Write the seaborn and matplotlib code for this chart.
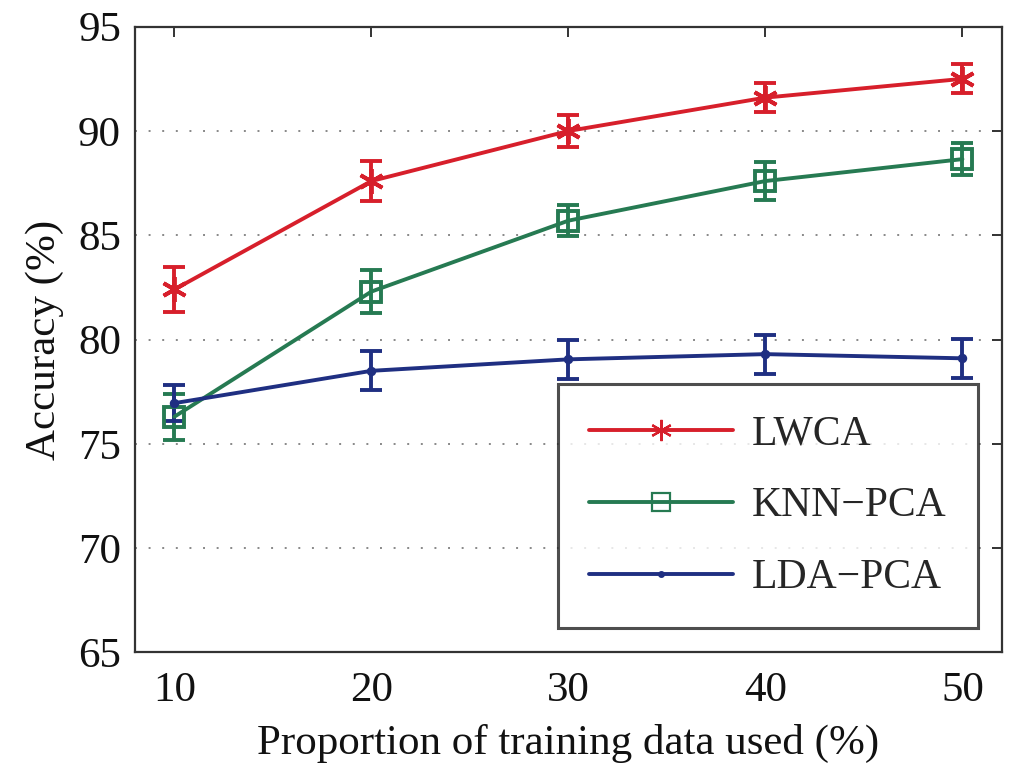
import numpy as np
import pandas as pd
import seaborn as sns
import matplotlib.pyplot as plt

# data
proportion = [10, 20, 30, 40, 50]
lwca = [82.4, 87.6, 90.0, 91.6, 92.5]
lwca_err = [1.1, 0.95, 0.75, 0.7, 0.7]
knn_pca = [76.3, 82.3, 85.7, 87.6, 88.65]
knn_pca_err = [1.1, 1.05, 0.75, 0.9, 0.75]
lda_pca = [76.95, 78.5, 79.05, 79.3, 79.1]
lda_pca_err = [0.85, 0.93, 0.93, 0.93, 0.93]
methods = ['LWCA', 'KNN\u2212PCA', 'LDA\u2212PCA']

colors = {'LWCA': '#d71f2b', 'KNN\u2212PCA': '#267a52', 'LDA\u2212PCA': '#1f2f82'}
markers = {'LWCA': (6, 2, 0), 'KNN\u2212PCA': 's', 'LDA\u2212PCA': 'o'}
msizes = {'LWCA': 18, 'KNN\u2212PCA': 15, 'LDA\u2212PCA': 4}

df = pd.DataFrame({
    'x': proportion * 3,
    'acc': lwca + knn_pca + lda_pca,
    'err': lwca_err + knn_pca_err + lda_pca_err,
    'method': [m for m in methods for _ in proportion],
})

sns.set_style('white')
plt.rcParams['font.family'] = ['Liberation Serif', 'DejaVu Serif']

fig = plt.figure(figsize=(10.15, 7.63), dpi=100)
ax = fig.add_axes([0.133, 0.145, 0.854, 0.82])

for m in methods:
    sub = df[df['method'] == m]
    ax.errorbar(sub['x'], sub['acc'], yerr=sub['err'], fmt='none',
                ecolor=colors[m], elinewidth=2.8, capsize=8, capthick=2.8, zorder=2)
    sns.lineplot(data=sub, x='x', y='acc', ax=ax, color=colors[m], linewidth=2.8,
                 marker=markers[m], markersize=msizes[m], label=m,
                 markerfacecolor='none' if m != 'LDA\u2212PCA' else colors[m],
                 markeredgecolor=colors[m], markeredgewidth=2.8, zorder=3)

ax.set_xlim(8, 52)
ax.set_ylim(65, 95)
ax.set_xticks(proportion)
ax.set_yticks(range(65, 96, 5))
ax.yaxis.grid(True, linestyle=(0, (1, 6)), color='#888888', linewidth=1.4)
ax.xaxis.grid(False)
for s in ax.spines.values():
    s.set_color('#333333')
    s.set_linewidth(1.6)
ax.tick_params(axis='both', direction='in', length=7, width=1.4, labelsize=31,
               top=True, right=True, colors='#333333', labelcolor='#111111')
ax.tick_params(axis='x', pad=14)
ax.tick_params(axis='y', pad=10)
ax.set_xlabel('Proportion of training data used (%)', fontsize=31, labelpad=10,
              color='#111111')
ax.set_ylabel('Accuracy (%)', fontsize=31, labelpad=10, color='#111111')

leg = ax.legend(loc='lower right', fontsize=30, handlelength=3.45, handletextpad=0.45,
                borderpad=0.75, labelspacing=0.8, borderaxespad=0, frameon=True,
                fancybox=False, bbox_to_anchor=(0.9723, 0.0383))
leg.get_frame().set_edgecolor('#222222')
leg.get_frame().set_linewidth(2.2)
for h in leg.legend_handles:
    h.set_markersize(h.get_markersize() * 0.85)
    h.set_markeredgewidth(1.6)

fig.savefig('out.png', dpi=100)
